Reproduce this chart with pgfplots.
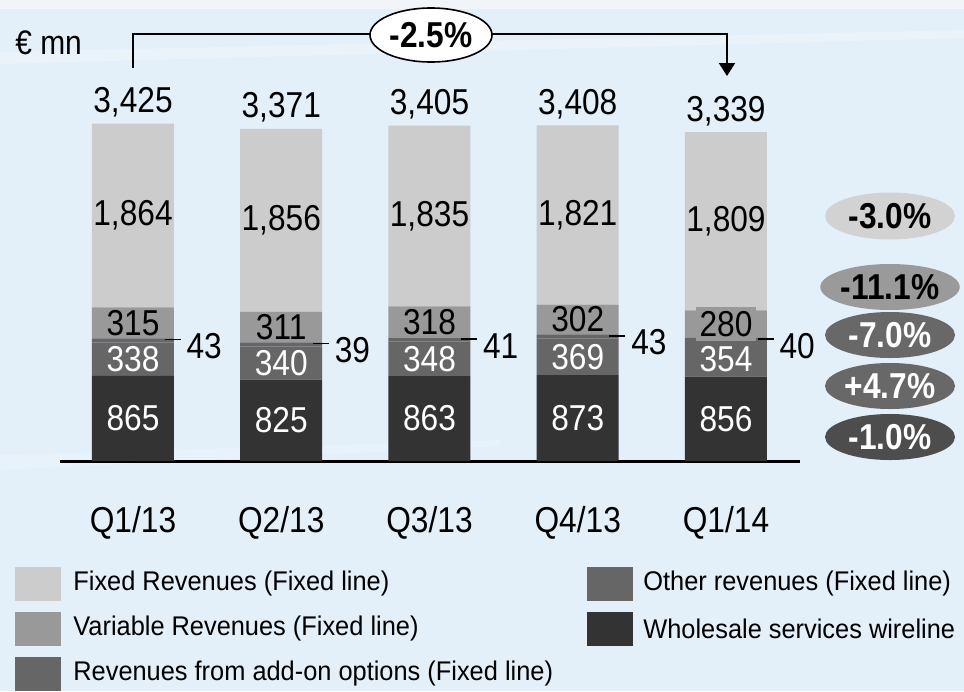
\documentclass[border=0pt]{standalone}
\usepackage{fontspec}
\setmainfont[FakeStretch=0.88]{Liberation Sans}
\newfontfamily\legfont[FakeStretch=0.94]{Liberation Sans}
\usepackage{pgfplots}
\usepackage{pgfplotstable}
\pgfplotsset{compat=1.18}
\usetikzlibrary{shapes.geometric,arrows.meta}
\definecolor{bgblue}{HTML}{E3EFF9}
\definecolor{bgtop}{HTML}{F1F5F9}
\definecolor{cF}{HTML}{CCCCCC}
\definecolor{cV}{HTML}{999999}
\definecolor{cA}{HTML}{666666}
\definecolor{cO}{HTML}{666666}
\definecolor{cW}{HTML}{333333}
\definecolor{pF}{HTML}{D2D2D2}
\definecolor{pV}{HTML}{9A9A9A}
\definecolor{pA}{HTML}{686868}
\definecolor{pO}{HTML}{686868}
\definecolor{pW}{HTML}{4D4D4D}
\newcommand\num{\fontsize{18}{20}\selectfont}
\newcommand\pct{\fontsize{18}{20}\selectfont\bfseries}

\pgfplotstableread{
x W O A V F
0 865 338 43 315 1864
1 825 340 39 311 1856
2 863 348 41 318 1835
3 873 369 43 302 1821
4 856 354 40 280 1809
}\data

\pgfplotstableread{
x y l
0 3425 3,425
1 3371 3,371
2 3405 3,405
3 3408 3,408
4 3339 3,339
}\totals
\pgfplotstableread{
x y l
0 2493 1,864
1 2443 1,856
2 2487.5 1,835
3 2497.5 1,821
4 2434.5 1,809
}\labF
\pgfplotstableread{
x y l
0 1403.5 315
1 1359.5 311
2 1411 318
3 1436 302
}\labV
\pgfplotstableread{
x y l
4 1390 280
}\labVlast
\pgfplotstableread{
x y l
0 1034 338
1 995 340
2 1037 348
3 1057.5 369
4 1033 354
}\labO
\pgfplotstableread{
x y l
0 432.5 865
1 412.5 825
2 431.5 863
3 436.5 873
4 428 856
}\labW
\pgfplotstableread{
x y l
0.21 1224.5 43
1.21 1184.5 39
2.21 1231.5 41
3.21 1263.5 43
4.21 1230 40
}\labA

\pgfplotsset{
  geom/.style={at={(30pt,-230.5pt)}, anchor=south west, scale only axis,
    width=370pt, height=197pt, xmin=-0.4924, xmax=4.4993, ymin=0, ymax=4000, clip=false},
  lbl/.style={only marks, mark=none,
    point meta=explicit symbolic, nodes near coords,
    every node near coord/.append style={anchor=center, inner sep=0pt, font=\num, text=#1}},
}

\begin{document}
\begin{tikzpicture}[x=0.5pt,y=0.5pt]
\fill[bgblue] (0,0) rectangle (964,-691);
\fill[bgtop] (0,0) rectangle (964,-9);
\fill[white, opacity=0.25] (0,-52) -- (964,-30) -- (964,-38) -- (0,-64) -- cycle;
\fill[white, opacity=0.2] (0,-455) -- (500,-440) -- (500,-446) -- (0,-470) -- cycle;

\begin{axis}[geom, ybar stacked, bar width=41pt,
  axis y line=none, axis x line*=bottom,
  x axis line style={line width=1.5pt, -},
  xtick={0,1,2,3,4}, xticklabels={Q1/13,Q2/13,Q3/13,Q4/13,Q1/14},
  major tick length=0pt, ytick=\empty,
  xticklabel style={font=\num, yshift=-19pt}]
\addplot[fill=cW, draw=none] table[x=x, y=W] {\data};
\addplot[fill=cO, draw=none] table[x=x, y=O] {\data};
\addplot[fill=cA, draw=none] table[x=x, y=A] {\data};
\addplot[fill=cV, draw=none] table[x=x, y=V] {\data};
\addplot[fill=cF, draw=none] table[x=x, y=F] {\data};
\end{axis}

\begin{axis}[geom, hide axis]
\addplot[lbl=black] table[x=x, y=y, meta=l] {\labF};
\addplot[lbl=white] table[x=x, y=y, meta=l] {\labO};
\addplot[lbl=white] table[x=x, y=y, meta=l] {\labW};
\addplot[lbl=black] table[x=x, y=y, meta=l] {\labV};
\addplot[lbl=black, every node near coord/.append style={fill=cV, inner xsep=2pt, inner ysep=2pt}]
  table[x=x, y=y, meta=l] {\labVlast};
\addplot[only marks, mark=none,
  point meta=explicit symbolic, nodes near coords={\rule[9.2pt]{8pt}{0.7pt}\hspace{3pt}\pgfplotspointmeta},
  every node near coord/.append style={anchor=west, inner sep=0pt, font=\num, yshift=-3pt}]
  table[x=x, y=y, meta=l] {\labA};
\addplot[only marks, mark=none,
  point meta=explicit symbolic, nodes near coords,
  every node near coord/.append style={anchor=base, inner sep=0pt, font=\num, yshift=5.5pt}]
  table[x=x, y=y, meta=l] {\totals};
\end{axis}

% total change arrow
\draw[line width=1pt, -{Triangle[width=8pt,length=6.5pt]}] (133,-68) -- (133,-34) -- (727,-34) -- (727,-76);
\node[ellipse, draw=black, line width=0.8pt, fill=white, minimum width=61pt, minimum height=27pt, inner sep=0pt] at (431,-35) {\pct -2.5\%};
\node[anchor=base west, inner sep=0pt, font=\fontsize{17}{20}\selectfont] at (15,-54) {€ mn};

% segment changes
\node[ellipse, fill=pF, minimum width=65pt, minimum height=23.5pt, inner sep=0pt] at (890,-216) {\pct -3.0\%};
\node[ellipse, fill=pV, minimum width=65pt, minimum height=23pt, inner sep=0pt] at (890,-287) {\pct -11.1\%};
\node[ellipse, fill=pA, minimum width=65pt, minimum height=23pt, inner sep=0pt, text=white] at (890,-335) {\pct -7.0\%};
\node[ellipse, fill=pO, minimum width=65pt, minimum height=23pt, inner sep=0pt, text=white] at (890,-386) {\pct +4.7\%};
\node[ellipse, fill=pW, minimum width=65pt, minimum height=23pt, inner sep=0pt, text=white] at (890,-437) {\pct -1.0\%};

% legend
\fill[cF] (15,-567) rectangle (61,-601);
\fill[cV] (15,-612) rectangle (61,-646);
\fill[cA] (15,-657) rectangle (61,-691);
\fill[cO] (587,-567) rectangle (633,-601);
\fill[cW] (587,-612) rectangle (633,-646);
\begin{scope}[every node/.style={anchor=west, inner sep=0pt, font=\legfont\fontsize{13.5}{16}\selectfont}]
\node at (73,-584) {Fixed Revenues (Fixed line)};
\node at (73,-629) {Variable Revenues (Fixed line)};
\node at (73,-674) {Revenues from add-on options (Fixed line)};
\node at (643,-584) {Other revenues (Fixed line)};
\node at (643,-629) {Wholesale services wireline};
\end{scope}
\end{tikzpicture}
\end{document}
